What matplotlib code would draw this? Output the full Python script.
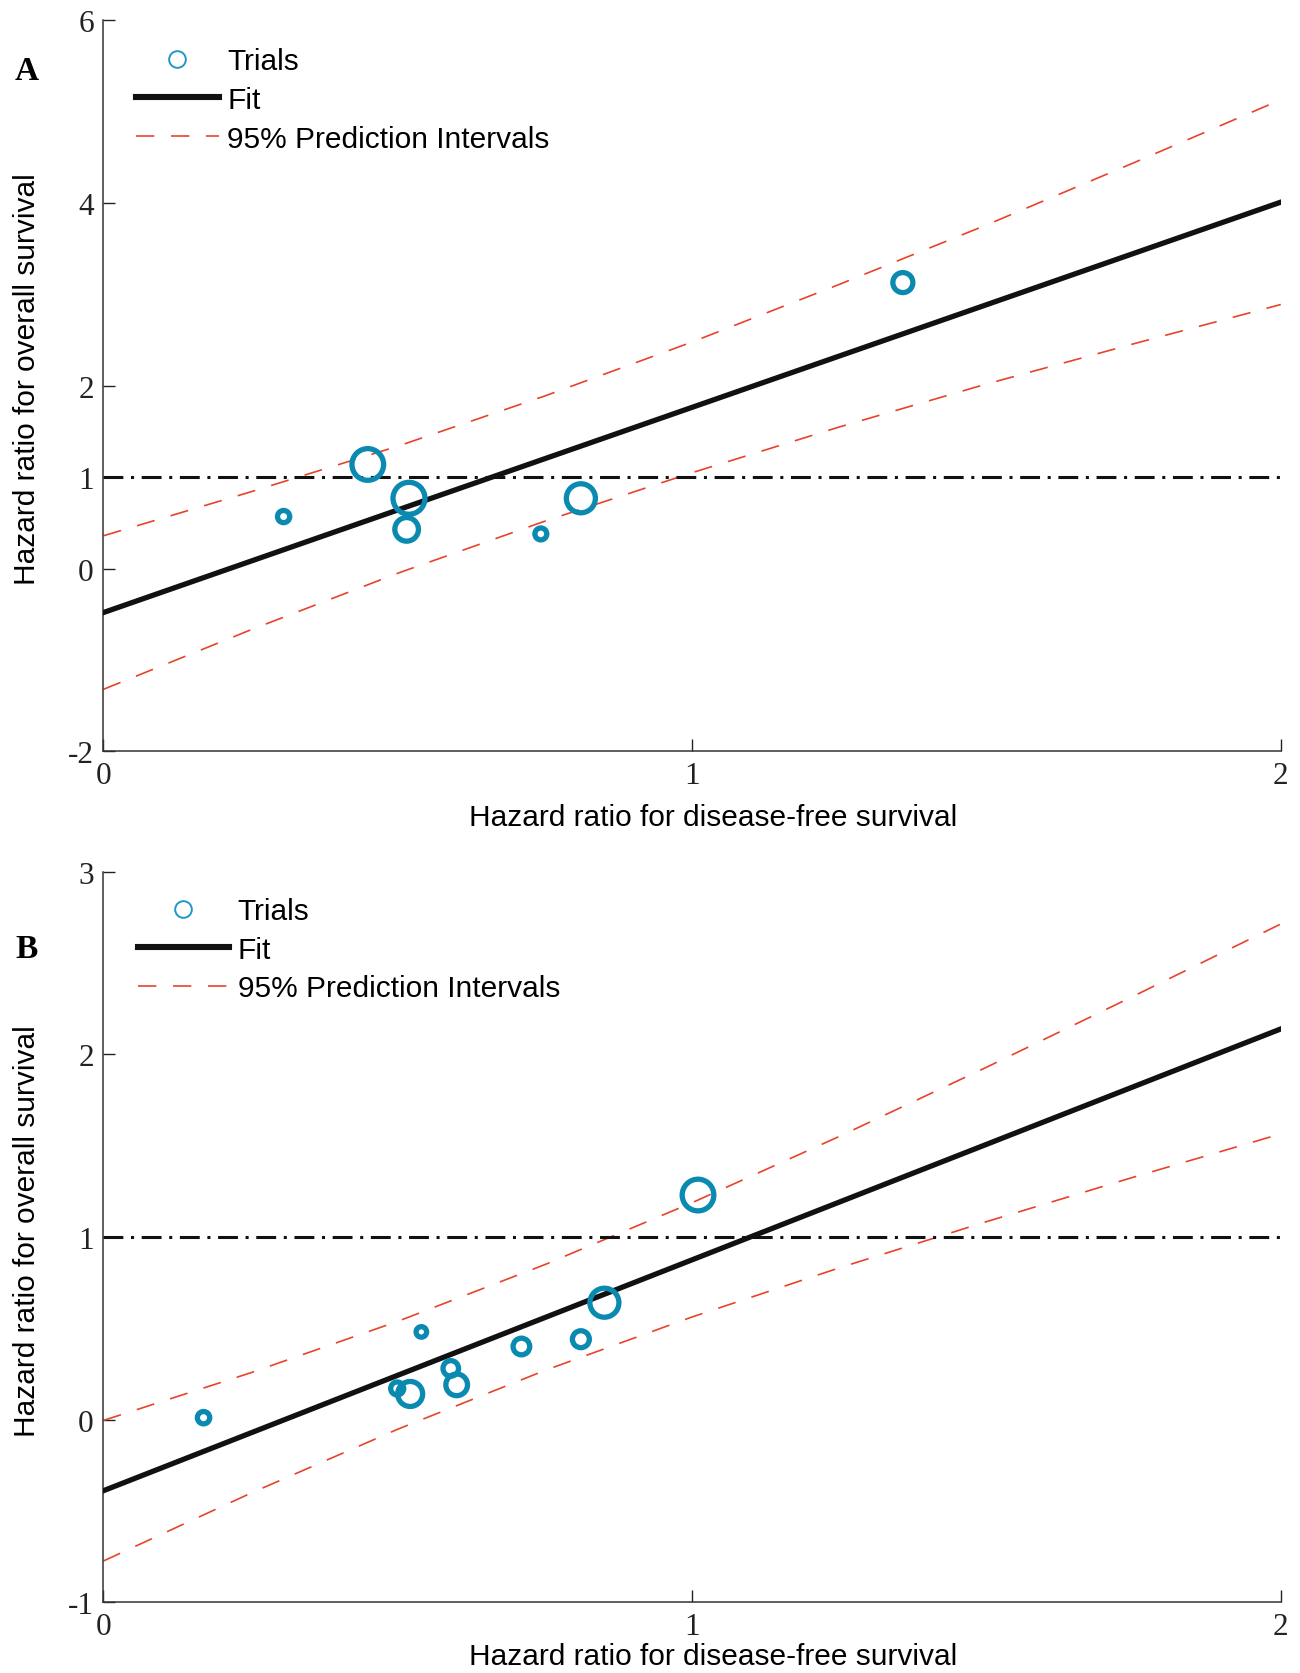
import matplotlib
matplotlib.use('Agg')
from matplotlib import pyplot as plt
from matplotlib.lines import Line2D

plt.rcParams['axes.unicode_minus'] = False

# Panel A: trials (HR for DFS vs HR for OS) and marker weight
a_dfs = [0.306, 0.449, 0.519, 0.515, 0.743, 0.811, 1.358]
a_os = [0.57, 1.14, 0.77, 0.43, 0.38, 0.77, 3.13]
a_weight = [8.8, 22.8, 23.0, 17.0, 8.6, 20.9, 14.4]

# Panel A: fit and 95% prediction intervals
a_fit_x = [0, 2]
a_fit_y = [-0.48, 4.01]
pi_x = [0, 0.25, 0.5, 0.75, 1.0, 1.25, 1.5, 1.75, 2.0]
a_pi_up = [0.36, 0.84, 1.34, 1.89, 2.48, 3.11, 3.76, 4.44, 5.13]
a_pi_lo = [-1.32, -0.67, -0.05, 0.52, 1.05, 1.55, 2.02, 2.46, 2.89]

# Panel B
b_dfs = [0.170, 0.499, 0.521, 0.540, 0.590, 0.600, 0.710, 0.811, 0.851, 1.010]
b_os = [0.01, 0.17, 0.14, 0.48, 0.28, 0.19, 0.40, 0.44, 0.64, 1.23]
b_weight = [8.9, 9.4, 18.0, 7.6, 11.2, 15.6, 12.0, 12.2, 20.9, 22.8]

b_fit_x = [0, 2]
b_fit_y = [-0.39, 2.14]
b_pi_up = [-0.005, 0.256, 0.538, 0.849, 1.188, 1.551, 1.93, 2.32, 2.715]
b_pi_lo = [-0.775, -0.404, -0.053, 0.269, 0.562, 0.831, 1.084, 1.328, 1.565]

x_ticks = [0, 1, 2]
a_yticks = [-2, 0, 1, 2, 4, 6]
b_yticks = [-1, 0, 1, 2, 3]

teal = '#0a8ab0'
red = '#e8432a'
sans = 'Liberation Sans'
serif = 'Liberation Serif'
labels = ['Trials', 'Fit', '95% Prediction Intervals']


def draw_panel(ax, dfs, hr_os, weight, fit_x, fit_y, pi_up, pi_lo,
               ylim, yticks, xlab_y):
    ax.scatter(dfs, hr_os, s=[w ** 2 for w in weight], facecolors='none',
               edgecolors=teal, linewidths=3.8, zorder=4)
    ax.plot(fit_x, fit_y, color='#111111', lw=3.8, zorder=3)
    ax.plot(pi_x, pi_up, color=red, lw=1.2, ls=(0, (11, 10)), zorder=2)
    ax.plot(pi_x, pi_lo, color=red, lw=1.2, ls=(0, (11, 10)), zorder=2)
    ax.axhline(1, color='#111111', lw=2.2, ls=(0, (6.5, 2.5, 1, 2.5)), zorder=2)

    ax.set_xlim(0, 2)
    ax.set_ylim(*ylim)
    ax.set_xticks(x_ticks)
    ax.set_yticks(yticks)
    ax.set_xticklabels([str(t) for t in x_ticks], family=serif, fontsize=22.5)
    ax.set_yticklabels([str(t) for t in yticks], family=serif, fontsize=22.5)
    ax.tick_params(direction='in', length=8.5, width=1, colors='#222222', pad=7)

    for side in ['top', 'right']:
        ax.spines[side].set_visible(False)
    for side in ['left', 'bottom']:
        ax.spines[side].set_linewidth(1.1)
        ax.spines[side].set_color('#333333')

    ax.set_xlabel('Hazard ratio for disease-free survival', family=sans, fontsize=21.5)
    ax.set_ylabel('Hazard ratio for overall survival', family=sans, fontsize=21.5)
    ax.xaxis.set_label_coords(0.518, xlab_y)
    ax.xaxis.label.set_va('center')
    ax.yaxis.set_label_coords(-0.065, 0.51)
    ax.yaxis.label.set_va('center')

    handles = [
        Line2D([], [], ls='none', marker='o', ms=12, mfc='none', mec='#2196c8', mew=1.4),
        Line2D([], [], color='#111111', lw=4.4),
        Line2D([], [], color=red, lw=1.2, ls=(0, (11, 10))),
    ]
    return handles


fig = plt.figure(figsize=(13, 16.74), dpi=100)

ax_a = fig.add_axes([0.0796, 0.5505, 0.9056, 0.4368])
h = draw_panel(ax_a, a_dfs, a_os, a_weight, a_fit_x, a_fit_y, a_pi_up, a_pi_lo,
               (-2, 6), a_yticks, -0.090)
fig.legend(h, labels, loc='upper left',
           bbox_to_anchor=(135.5 / 1300, 1 - 48 / 1674), frameon=False,
           prop={'family': sans, 'size': 21.5}, handlelength=2.8,
           handletextpad=0.27, labelspacing=0.36, borderpad=0, borderaxespad=0)

ax_b = fig.add_axes([0.0796, 0.0424, 0.9056, 0.4361])
h = draw_panel(ax_b, b_dfs, b_os, b_weight, b_fit_x, b_fit_y, b_pi_up, b_pi_lo,
               (-1, 3), b_yticks, -0.074)
fig.legend(h, labels, loc='upper left',
           bbox_to_anchor=(137.7 / 1300, 1 - 898 / 1674), frameon=False,
           prop={'family': sans, 'size': 21.5}, handlelength=3.05,
           handletextpad=0.3, labelspacing=0.36, borderpad=0, borderaxespad=0)

# panel letters
fig.text(27 / 1300, 1 - 72 / 1674, 'A', family=serif, fontsize=24,
         fontweight='bold', ha='center', va='center')
fig.text(27 / 1300, 1 - 950 / 1674, 'B', family=serif, fontsize=24,
         fontweight='bold', ha='center', va='center')

fig.savefig('out.png', dpi=100)
